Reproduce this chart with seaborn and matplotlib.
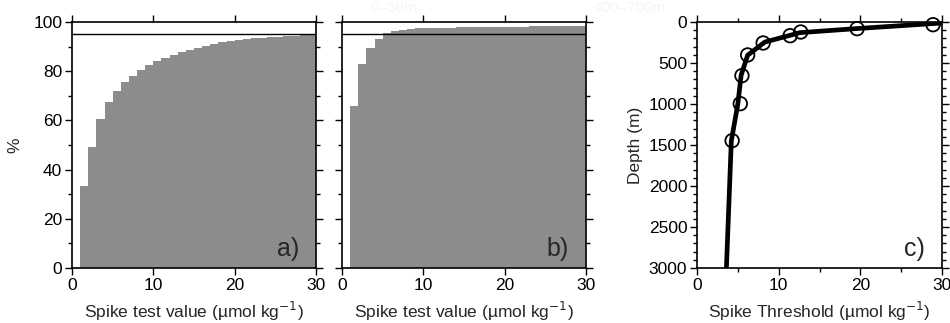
import numpy as np
import pandas as pd
import matplotlib
matplotlib.use("Agg")
import matplotlib.pyplot as plt
import seaborn as sns
from matplotlib.ticker import MultipleLocator

sns.set_theme(style="ticks")
plt.rcParams["font.family"] = ["Liberation Sans", "DejaVu Sans"]

# cumulative % of spike test values, bins of 1 umol/kg starting at 1
bin_left = list(range(1, 30))
pct_a = [33.5, 49.0, 60.7, 67.5, 72.0, 75.5, 78.2, 80.5, 82.4, 84.0,
         85.3, 86.6, 87.7, 88.6, 89.5, 90.3, 91.0, 91.7, 92.2, 92.6,
         93.0, 93.3, 93.6, 93.8, 94.0, 94.2, 94.4, 94.6, 95.3]
pct_b = [66.0, 82.9, 89.3, 93.2, 95.5, 96.4, 96.9, 97.2, 97.4, 97.5,
         97.6, 97.7, 97.7, 97.8, 97.8, 97.9, 97.9, 98.0, 98.0, 98.0,
         98.1, 98.1, 98.2, 98.2, 98.3, 98.3, 98.3, 98.4, 98.4]

# spike threshold vs depth
pts_thr = [28.9, 19.6, 12.7, 11.4, 8.1, 6.2, 5.5, 5.3, 4.3]
pts_depth = [33, 81, 122, 167, 256, 402, 654, 996, 1447]
fit_thr = [30.0, 19.6, 12.6, 8.3, 6.2, 5.4, 5.0, 4.2, 3.6]
fit_depth = [12, 80, 130, 245, 405, 650, 1000, 1450, 3000]

bar_color = "#8c8c8c"
fs = 12.5
xlabel_hist = "Spike test value (\u00b5mol kg$^{-1}$)"

fig = plt.figure(figsize=(9.5, 3.23), dpi=100)
ax_a = fig.add_axes([0.0758, 0.1703, 0.2568, 0.7616])
ax_b = fig.add_axes([0.3600, 0.1703, 0.2568, 0.7616])
ax_c = fig.add_axes([0.7337, 0.1703, 0.2579, 0.7616])


def style_frame(ax):
    for s in ax.spines.values():
        s.set_linewidth(1.2)
        s.set_color("black")
    ax.tick_params(which="both", direction="out", top=True, right=True,
                   colors="black", labelsize=fs, width=1.0, pad=2)
    ax.tick_params(which="major", length=5)
    ax.tick_params(which="minor", length=3)


def hist_panel(ax, vals, tag, show_ylabels):
    df = pd.DataFrame({"left": np.array(bin_left) + 0.5, "pct": vals})
    sns.histplot(data=df, x="left", weights="pct", bins=30, binrange=(0, 30),
                 ax=ax, color=bar_color, alpha=1.0, linewidth=0,
                 edgecolor="none")
    ax.axhline(95, color="black", lw=1.0)
    ax.set_xlim(0, 30)
    ax.set_ylim(0, 100)
    ax.xaxis.set_major_locator(MultipleLocator(10))
    ax.yaxis.set_major_locator(MultipleLocator(20))
    ax.yaxis.set_minor_locator(MultipleLocator(10))
    ax.set_xlabel(xlabel_hist, fontsize=fs, labelpad=5)
    if show_ylabels:
        ax.set_ylabel("%", fontsize=fs, labelpad=8)
    else:
        ax.set_ylabel("")
        ax.set_yticklabels([])
    ax.text(0.93, 0.03, tag, transform=ax.transAxes, ha="right", va="bottom",
            fontsize=18)
    style_frame(ax)


hist_panel(ax_a, pct_a, "a)", True)
hist_panel(ax_b, pct_b, "b)", False)

sns.lineplot(x=fit_thr, y=fit_depth, ax=ax_c, color="black", lw=3.4,
             sort=False, estimator=None)
sns.scatterplot(x=pts_thr, y=pts_depth, ax=ax_c, s=95, marker="o",
                facecolor="none", edgecolor="black", linewidth=1.3, zorder=5,
                clip_on=False)
ax_c.set_xlim(0, 30)
ax_c.set_ylim(3000, 0)
ax_c.xaxis.set_major_locator(MultipleLocator(10))
ax_c.xaxis.set_minor_locator(MultipleLocator(5))
ax_c.yaxis.set_major_locator(MultipleLocator(500))
ax_c.yaxis.set_minor_locator(MultipleLocator(100))
ax_c.set_xlabel("Spike Threshold (\u00b5mol kg$^{-1}$)", fontsize=fs, labelpad=5)
ax_c.set_ylabel("Depth (m)", fontsize=fs, labelpad=4)
ax_c.text(0.93, 0.03, "c)", transform=ax_c.transAxes, ha="right", va="bottom",
          fontsize=18)
style_frame(ax_c)

# faint ghost labels visible in the source image
fig.text(0.39, 0.975, "0\u201350m", color="#f5f5f5", fontsize=11,
         ha="left", va="center")
fig.text(0.625, 0.975, "400\u2013700m", color="#f5f5f5", fontsize=11,
         ha="left", va="center")

fig.savefig("out.png", dpi=100)
